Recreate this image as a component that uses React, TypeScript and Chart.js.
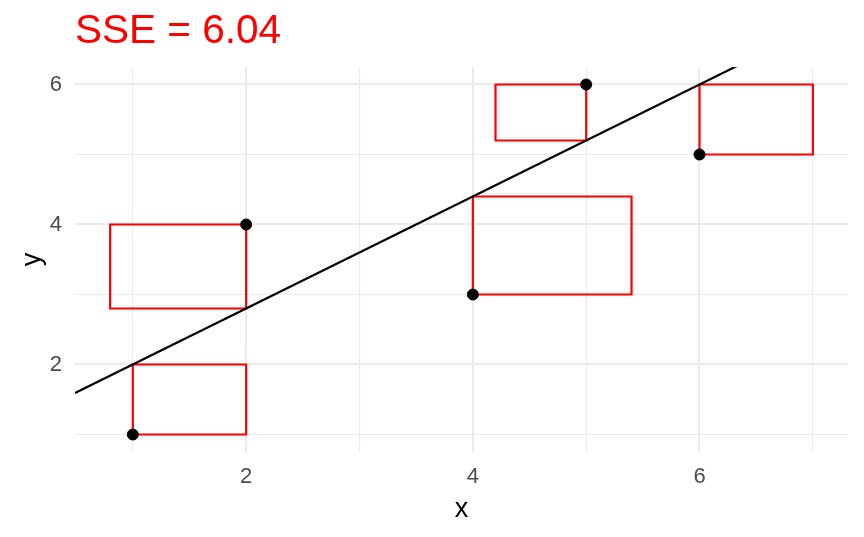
import React, { useEffect, useRef } from "react";
import { Chart, registerables } from "chart.js";

Chart.register(...registerables);

const pointX = [1, 2, 4, 5, 6];
const pointY = [1, 4, 3, 6, 5];
const intercept = 1.2;
const slope = 0.8;
const titleText = "SSE = 6.04";
const xTicks = [1, 2, 3, 4, 5, 6, 7];
const yTicks = [1, 2, 3, 4, 5, 6];
const xRange = [0.49, 7.31];
const yRange = [0.75, 6.25];

const FONT = "'Liberation Sans', Arial, sans-serif";

export default function App() {
  const ref = useRef<HTMLCanvasElement | null>(null);

  useEffect(() => {
    document.body.style.margin = "0";
    const canvas = ref.current!;
    const fitted = pointX.map((x) => intercept + slope * x);

    const squares = pointX.map((x, i) => {
      const y = pointY[i];
      const f = fitted[i];
      const r = y - f;
      const x2 = x - r;
      return {
        type: "line" as const,
        data: [
          { x: x, y: y },
          { x: x2, y: y },
          { x: x2, y: f },
          { x: x, y: f },
          { x: x, y: y },
        ],
        borderColor: "#FF0000",
        borderWidth: 2.2,
        pointRadius: 0,
        fill: false,
        tension: 0,
        clip: 0,
        order: 3,
      };
    });

    const lineData = xRange.map((x) => ({ x, y: intercept + slope * x }));

    const textPlugin = {
      id: "texts",
      afterDraw(chart: any) {
        const ctx = chart.ctx;
        const area = chart.chartArea;
        ctx.save();
        ctx.fillStyle = "#FF0000";
        ctx.font = `40.5px ${FONT}`;
        ctx.textAlign = "left";
        ctx.textBaseline = "alphabetic";
        ctx.fillText(titleText, 75, 43);

        ctx.fillStyle = "#000000";
        ctx.font = `27px ${FONT}`;
        ctx.textAlign = "center";
        ctx.fillText("x", (area.left + area.right) / 2, 516.5);

        ctx.translate(40, (area.top + area.bottom) / 2);
        ctx.rotate(-Math.PI / 2);
        ctx.textAlign = "center";
        ctx.fillText("y", 0, 0);
        ctx.restore();
      },
    };

    const gridWidth = (ctx: any) => {
      const v = ctx.tick ? ctx.tick.value : 0;
      return v % 2 === 0 ? 2.1 : 1.05;
    };

    const chart = new Chart(canvas, {
      type: "scatter",
      data: {
        datasets: [
          {
            type: "scatter",
            data: pointX.map((x, i) => ({ x, y: pointY[i] })),
            backgroundColor: "#000000",
            borderColor: "#000000",
            pointRadius: 5.5,
            pointHoverRadius: 5.5,
            order: 1,
          } as any,
          {
            type: "line",
            data: lineData,
            borderColor: "#000000",
            borderWidth: 2.2,
            pointRadius: 0,
            fill: false,
            clip: 0,
            order: 2,
          } as any,
          ...(squares as any[]),
        ],
      },
      options: {
        responsive: false,
        animation: false,
        devicePixelRatio: 1,
        layout: { padding: { top: 67, right: 16, left: 0, bottom: 0 } },
        plugins: {
          legend: { display: false },
          tooltip: { enabled: false },
          title: { display: false },
        },
        scales: {
          x: {
            type: "linear",
            min: xRange[0],
            max: xRange[1],
            afterBuildTicks: (scale: any) => {
              scale.ticks = xTicks.map((v) => ({ value: v }));
            },
            afterFit: (scale: any) => {
              scale.height = 85;
            },
            grid: {
              color: "#EBEBEB",
              lineWidth: gridWidth,
              drawTicks: false,
            },
            border: { display: false },
            ticks: {
              padding: 12,
              color: "#4D4D4D",
              font: { family: FONT, size: 22 },
              maxRotation: 0,
              autoSkip: false,
              callback: (v: any) => (Number(v) % 2 === 0 ? String(v) : ""),
            },
          },
          y: {
            type: "linear",
            min: yRange[0],
            max: yRange[1],
            afterBuildTicks: (scale: any) => {
              scale.ticks = yTicks.map((v) => ({ value: v }));
            },
            afterFit: (scale: any) => {
              scale.width = 75;
            },
            grid: {
              color: "#EBEBEB",
              lineWidth: gridWidth,
              drawTicks: false,
            },
            border: { display: false },
            ticks: {
              padding: 13,
              color: "#4D4D4D",
              font: { family: FONT, size: 22 },
              autoSkip: false,
              callback: (v: any) => (Number(v) % 2 === 0 ? String(v) : ""),
            },
          },
        },
      },
      plugins: [textPlugin],
    } as any);

    return () => chart.destroy();
  }, []);

  return (
    <div style={{ width: 864, height: 537 }}>
      <canvas ref={ref} width={864} height={537} style={{ display: "block" }} />
    </div>
  );
}
